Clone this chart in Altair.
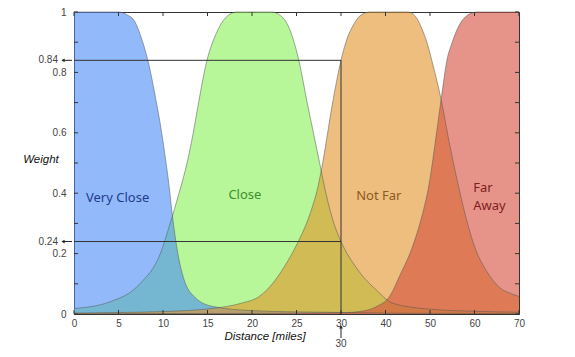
import altair as alt
import pandas as pd

# ---------------- data ----------------
x_ticks = [0, 5, 10, 15, 20, 25, 30, 40, 50, 60, 70]
y_ticks = [0, 0.1, 0.2, 0.3, 0.4, 0.5, 0.6, 0.7, 0.8, 0.9, 1.0]

series_names = ["Very Close", "Close", "Not Far", "Far Away"]
# base fill colours (drawn with transparency, as in the original)
series_colors = ["#498CF7", "#87F257", "#E19328", "#D54D3C"]
label_colors = ["#1E3A8A", "#3F8F2A", "#8B5A1E", "#7F1D1D"]
draw_order = ["Close", "Very Close", "Not Far", "Far Away"]

very_close_x = [0, 5.0, 6.0, 6.8, 7.5, 8.3, 9.2, 9.8, 10.3, 10.7, 11.0, 11.35, 11.8, 12.3, 13.6, 15.6, 20, 25, 30, 40, 55, 70]
very_close_y = [1, 1.0, 0.99, 0.97, 0.92, 0.84, 0.71, 0.61, 0.51, 0.42, 0.34, 0.26, 0.18, 0.12, 0.055, 0.025, 0.011, 0.007, 0.005, 0.003, 0.002, 0.001]

close_x = [0, 4.0, 7.4, 9.7, 10.8, 11.8, 12.7, 13.4, 14.0, 14.9, 16.0, 17.0, 18.3, 22.2, 23.5, 24.4, 25.3, 26.2, 26.9, 27.6, 28.3, 29.2, 30.0, 33.6, 38.1, 41.7, 50, 60, 70]
close_y = [0.018, 0.04, 0.10, 0.20, 0.30, 0.40, 0.50, 0.60, 0.70, 0.835, 0.93, 0.98, 1.0, 1.0, 0.98, 0.93, 0.835, 0.70, 0.60, 0.50, 0.40, 0.30, 0.24, 0.15, 0.077, 0.035, 0.016, 0.009, 0.006]

not_far_x = [0, 5, 10, 16, 18.7, 20.9, 22.0, 23.7, 25.2, 26.5, 27.4, 28.0, 28.5, 29.0, 29.5, 30.0, 31.1, 32.9, 34.5, 36.5, 45.1, 47.0, 48.3, 49.3, 50.4, 52.5, 54.3, 56.3, 57.9, 60.1, 62.8, 65.7, 68.7, 70]
not_far_y = [0.003, 0.005, 0.008, 0.02, 0.035, 0.06, 0.09, 0.16, 0.24, 0.33, 0.42, 0.51, 0.60, 0.69, 0.77, 0.84, 0.90, 0.96, 0.99, 1.0, 1.0, 0.98, 0.94, 0.90, 0.84, 0.71, 0.57, 0.43, 0.33, 0.22, 0.14, 0.087, 0.065, 0.058]

far_away_x = [0, 20, 30, 35, 38, 41, 43.3, 46, 48.2, 49.8, 51.2, 52.5, 53.8, 55, 56.7, 58.5, 60.6, 70]
far_away_y = [0.001, 0.002, 0.004, 0.01, 0.025, 0.06, 0.13, 0.22, 0.325, 0.43, 0.57, 0.71, 0.84, 0.90, 0.96, 0.99, 1.0, 1.0]

# curve labels (data positions)
label_text = ["Very Close", "Close", "Not Far", "Far", "Away"]
label_x = [4.9, 19.2, 38.5, 59.7, 59.7]
label_y = [0.384, 0.394, 0.39, 0.416, 0.358]
label_series = ["Very Close", "Close", "Not Far", "Far Away", "Far Away"]
label_align = ["center", "center", "center", "left", "left"]

# guide lines
h_levels = [0.84, 0.24]
v_level = 30

# ---------------- build tables ----------------
rows = []
for name, xs_, ys_l in [("Very Close", very_close_x, very_close_y),
                        ("Close", close_x, close_y),
                        ("Not Far", not_far_x, not_far_y),
                        ("Far Away", far_away_x, far_away_y)]:
    for xv, yv in zip(xs_, ys_l):
        rows.append({"series": name, "x": xv, "y": yv})
curves = pd.DataFrame(rows)

labels = pd.DataFrame({"text": label_text, "x": label_x, "y": label_y,
                       "series": label_series, "align": label_align})
hlines = pd.DataFrame({"y": h_levels, "x0": [0] * len(h_levels), "x1": [v_level] * len(h_levels),
                       "lab": [str(v) for v in h_levels]})
vline = pd.DataFrame({"x": [v_level], "y0": [0], "y1": [h_levels[0]], "lab": [str(v_level)]})
xt = pd.DataFrame({"v": x_ticks})
yt = pd.DataFrame({"v": y_ticks})

W, H = 445, 302
X30 = 267

xs = alt.Scale(domain=[0, 30, 70], range=[0, X30, W], nice=False, zero=False)
ys = alt.Scale(domain=[0, 1], nice=False, zero=False)

AX_FONT = "Liberation Sans"

X = alt.X("x:Q", scale=xs,
          axis=alt.Axis(values=x_ticks, format="d", ticks=False, tickSize=0, grid=False,
                        labelPadding=4, labelFont=AX_FONT, labelFontSize=10, labelColor="#444",
                        domainColor="#333", title=None, labelFlush=False))
Y = alt.Y("y:Q", scale=ys, stack=None,
          axis=alt.Axis(values=y_ticks, format="~g", ticks=False, tickSize=0, grid=False,
                        labelPadding=8, labelFont=AX_FONT, labelFontSize=10, labelColor="#444",
                        domainColor="#333", title=None, labelFlush=False))

color_of = dict(zip(series_names, series_colors))
area_layers = []
for k, name in enumerate(draw_order):
    enc_x = X if k == 0 else alt.X("x:Q", scale=xs)
    enc_y = Y if k == 0 else alt.Y("y:Q", scale=ys, stack=None)
    area_layers.append(
        alt.Chart(curves).transform_filter(alt.datum.series == name)
        .mark_area(interpolate="monotone", color=color_of[name], opacity=0.6)
        .encode(x=enc_x, y=enc_y))

lines = alt.Chart(curves).mark_line(interpolate="monotone", strokeWidth=0.8, color="#555",
                                    opacity=0.65).encode(
    x=alt.X("x:Q", scale=xs), y=alt.Y("y:Q", scale=ys, stack=None), detail="series:N")

hrules = alt.Chart(hlines).mark_rule(color="#333", strokeWidth=1).encode(
    x=alt.X("x0:Q", scale=xs), x2="x1:Q", y=alt.Y("y:Q", scale=ys))
vrule = alt.Chart(vline).mark_rule(color="#333", strokeWidth=1).encode(
    x=alt.X("x:Q", scale=xs), y=alt.Y("y0:Q", scale=ys), y2="y1:Q")

# inward ticks on all four sides
tb = alt.Chart(xt).mark_rule(color="#333", strokeWidth=1).encode(
    x=alt.X("v:Q", scale=xs), y=alt.value(H), y2=alt.value(H - 4))
tt = alt.Chart(xt).mark_rule(color="#333", strokeWidth=1).encode(
    x=alt.X("v:Q", scale=xs), y=alt.value(0), y2=alt.value(4))
tl = alt.Chart(yt).mark_rule(color="#333", strokeWidth=1).encode(
    y=alt.Y("v:Q", scale=ys), x=alt.value(0), x2=alt.value(4))
tr = alt.Chart(yt).mark_rule(color="#333", strokeWidth=1).encode(
    y=alt.Y("v:Q", scale=ys), x=alt.value(W), x2=alt.value(W - 4))

label_color = alt.Color("series:N", scale=alt.Scale(domain=series_names, range=label_colors), legend=None)
labels_c = alt.Chart(labels).transform_filter(alt.datum.align == "center").mark_text(
    font="Comic Sans MS, Noto Sans", fontSize=13, baseline="middle", align="center").encode(
    x=alt.X("x:Q", scale=xs), y=alt.Y("y:Q", scale=ys), text="text:N", color=label_color)
labels_l = alt.Chart(labels).transform_filter(alt.datum.align == "left").mark_text(
    font="Comic Sans MS, Noto Sans", fontSize=13, baseline="middle", align="left").encode(
    x=alt.X("x:Q", scale=xs), y=alt.Y("y:Q", scale=ys), text="text:N", color=label_color)

# left-side value annotations with arrows
h_text = alt.Chart(hlines).mark_text(align="right", baseline="middle", font=AX_FONT,
                                     fontSize=10, color="#444").encode(
    x=alt.value(-16), y=alt.Y("y:Q", scale=ys), text="lab:N")
h_arrow = alt.Chart(hlines).mark_rule(color="#222", strokeWidth=1).encode(
    x=alt.value(-11), x2=alt.value(-2), y=alt.Y("y:Q", scale=ys))
h_head = alt.Chart(hlines).mark_point(shape="triangle-left", filled=True, size=14,
                                      color="#222", opacity=1).encode(
    x=alt.value(-11), y=alt.Y("y:Q", scale=ys))

# bottom value annotation with arrow
v_arrow = alt.Chart(vline).mark_rule(color="#222", strokeWidth=1).encode(
    x=alt.X("x:Q", scale=xs), y=alt.value(314), y2=alt.value(326))
v_head = alt.Chart(vline).mark_point(shape="triangle-up", filled=True, size=14,
                                     color="#222", opacity=1).encode(
    x=alt.X("x:Q", scale=xs), y=alt.value(315))
v_text = alt.Chart(vline).mark_text(align="center", baseline="middle", font=AX_FONT,
                                    fontSize=10, color="#444").encode(
    x=alt.X("x:Q", scale=xs), y=alt.value(332), text="lab:N")

one = pd.DataFrame({"a": [0]})
x_title = alt.Chart(one).mark_text(text="Distance [miles]", font=AX_FONT, fontSize=11.5,
                                   fontStyle="italic", color="#111", align="center",
                                   baseline="middle").encode(x=alt.value(191), y=alt.value(325))
y_title = alt.Chart(one).mark_text(text="Weight", font=AX_FONT, fontSize=11.5,
                                   fontStyle="italic", color="#111", align="center",
                                   baseline="middle").encode(x=alt.value(-33), y=alt.value(148))

chart = alt.layer(*area_layers, lines, hrules, vrule, tb, tt, tl, tr, labels_c, labels_l,
                  h_text, h_arrow, h_head, v_arrow, v_head, v_text, x_title, y_title).properties(
    width=W, height=H,
    autosize=alt.AutoSizeParams(type="none"),
    padding={"left": 66, "top": 4, "right": 48, "bottom": 35},
).configure_view(stroke="#333", strokeWidth=1)

chart.save("out.html", embed_options={"renderer": "svg", "actions": False})
